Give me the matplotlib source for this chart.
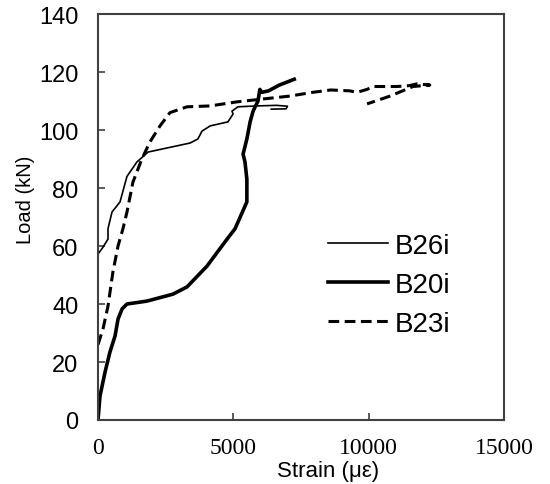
import matplotlib
matplotlib.use("Agg")
import matplotlib.pyplot as plt

# B26i (thin)
b26_strain = [0, 185, 370, 370, 517, 813, 1070, 1440, 1850, 2550, 3400, 3690, 3840, 4140, 4800,
              4990, 4950, 5170, 5870, 6600, 7000, 6950, 6400]
b26_load = [57.2, 59.6, 62.4, 66, 71.7, 75.2, 84, 89, 92.4, 93.8, 95.5, 96.9, 99.6, 101.4, 102.8,
            105.5, 106.5, 108, 108.3, 108.5, 108.2, 107.3, 107.2]

# B20i (thick)
b20_strain = [0, 74, 260, 440, 630, 740, 890, 1070, 1810, 2770, 3290, 4030, 4770, 5060, 5500,
              5500, 5430, 5360, 5500, 5620, 5730, 5910, 5980, 6050, 6300, 6700, 7250]
b20_load = [0, 8.3, 16.5, 23.4, 29, 34.8, 38.3, 40, 41, 43.4, 45.9, 53.1, 62.4, 65.9, 75.2,
            83, 89, 91.7, 96.9, 102.8, 106.5, 110, 114, 113, 113.5, 115.5, 117.5]

# B23i (dashed)
b23_strain = [0, 185, 370, 550, 740, 920, 1070, 1290, 1620, 1920, 2290, 2660, 3290, 4140, 5130,
              6100, 7090, 7940, 8600, 9300, 9570, 9940, 10160, 11050, 11500, 11780, 12260,
              11640, 10790, 9940]
b23_load = [26, 31.4, 39.3, 51, 60, 65.9, 71.7, 82, 90, 95.9, 101.4, 106, 108, 108.3, 109.7,
            110.7, 111.7, 113, 113.8, 113.5, 113, 114, 115, 115, 115.3, 115.9, 115.5,
            115, 111.7, 109]

labels = ["B26i", "B20i", "B23i"]

fig = plt.figure(figsize=(5.5, 4.85), dpi=100)
ax = fig.add_axes([98/550, 1-421/485, (504-98)/550, (421-15)/485])

ax.plot(b26_strain, b26_load, color="black", lw=1.2, label=labels[0])
ax.plot(b20_strain, b20_load, color="black", lw=2.6, label=labels[1])
ax.plot(b23_strain, b23_load, color="black", lw=2.2, dashes=(3.5, 1.8), label=labels[2])

ax.set_xlim(0, 15000)
ax.set_ylim(0, 140)
ax.set_xticks([0, 5000, 10000, 15000])
ax.set_yticks(range(0, 141, 20))
ax.tick_params(direction="in", length=5, width=1.2, color="#404040", top=False, right=False)
for lab in ax.get_xticklabels():
    lab.set_fontfamily("Liberation Serif")
    lab.set_fontsize(17)
for lab in ax.get_yticklabels():
    lab.set_fontfamily("Liberation Sans")
    lab.set_fontsize(17)
ax.tick_params(axis="x", pad=12)
ax.tick_params(axis="y", pad=14)
for s in ax.spines.values():
    s.set_color("#404040")
    s.set_linewidth(1.5)

ax.set_xlabel("Strain (με)", fontfamily="Liberation Sans", fontsize=16, labelpad=0)
ax.xaxis.set_label_coords((328-98)/406, -(461-421)/406)
ax.set_ylabel("Load (kN)", fontfamily="Liberation Sans", fontsize=14.5)
ax.yaxis.set_label_coords(-(98-35)/406, (421-200)/406)

leg = ax.legend(frameon=False, prop={"family": "Liberation Sans", "size": 20},
                handlelength=2.15, handletextpad=0.25, labelspacing=0.46,
                borderpad=0, borderaxespad=0,
                loc="upper left", bbox_to_anchor=(328/550, 1-234/485),
                bbox_transform=fig.transFigure)

fig.savefig("out.png", dpi=100)
